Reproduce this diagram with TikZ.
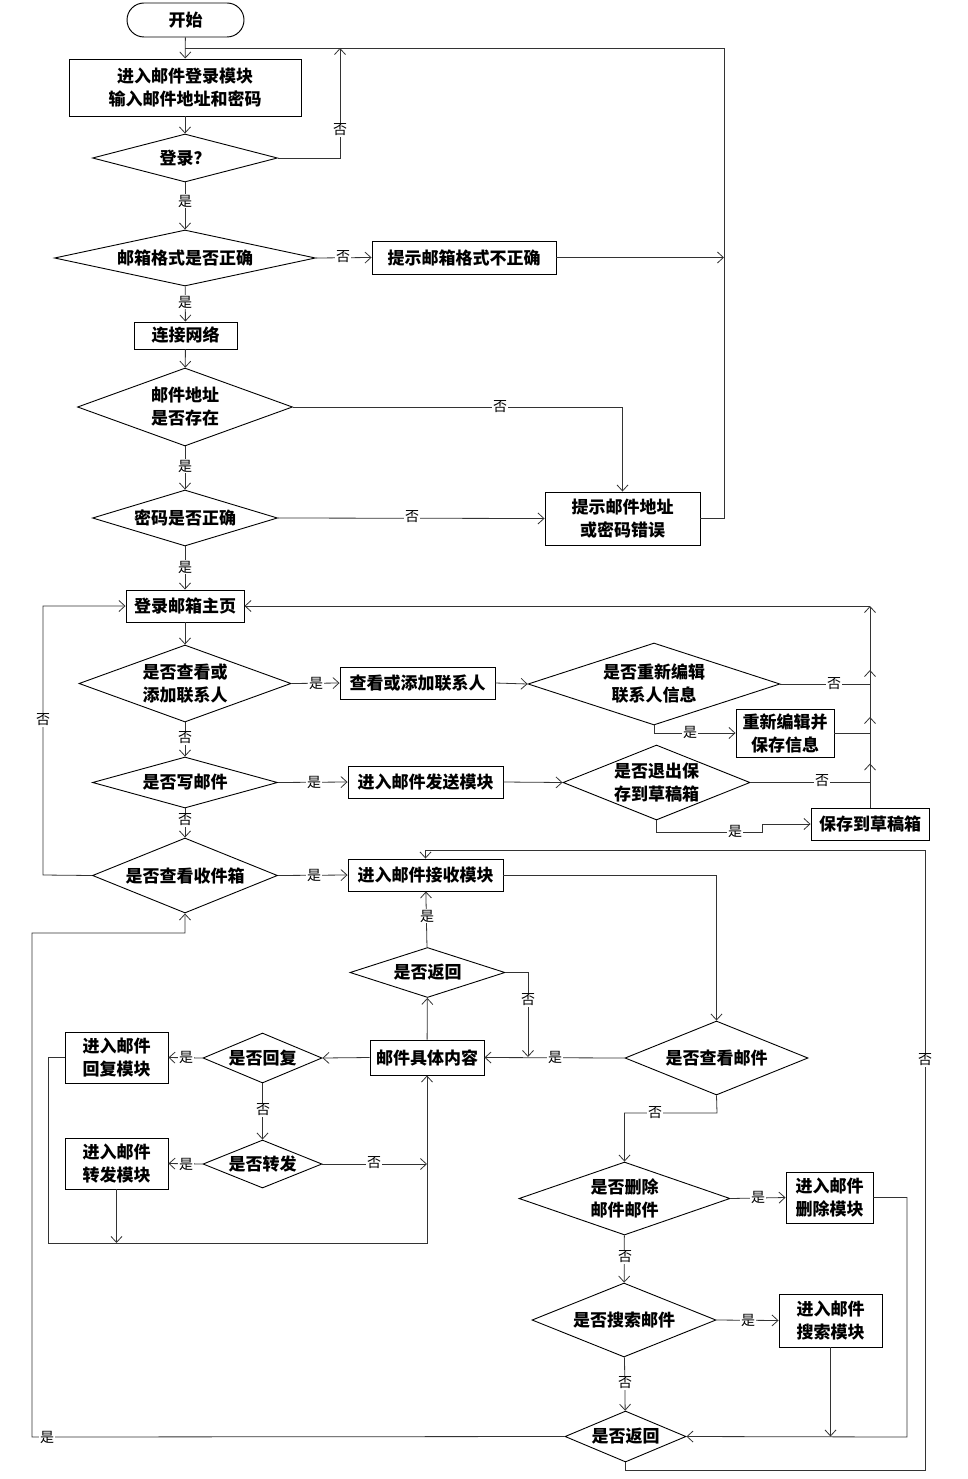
\documentclass[tikz,border=0pt]{standalone}
\usepackage{fontspec}
\setmainfont{Noto Sans CJK SC}
\usetikzlibrary{shapes.geometric,arrows.meta}

\begin{document}
\begin{tikzpicture}[x=1pt, y=-1pt,
    box/.style 2 args={draw, line width=0.95pt, minimum width=#1pt, minimum height=#2pt, align=center, inner sep=0pt, font=\bfseries\fontsize{17}{23}\selectfont},
    dec/.style 2 args={diamond, draw, line width=0.9pt, minimum width=#1pt, minimum height=#2pt, inner sep=0pt},
    dtxt/.style={align=center, inner sep=0pt, font=\bfseries\fontsize{17}{23}\selectfont},
    lab/.style={fill=white, inner sep=1pt, font=\fontsize{14}{14}\selectfont},
    arr/.style={draw=black!80, line width=0.8pt, -{Straight Barb[length=6pt,width=11pt]}},
    ln/.style={draw=black!80, line width=0.8pt},
]
\useasboundingbox (0,0) rectangle (968,1479);

% Login part
\node[box={117}{34}, rounded corners=17pt] (start) at (185.5,20) {开始};
\node[box={232}{57}] (login) at (185,87.5) {进入邮件登录模块\\输入邮件地址和密码};
\node[dec={185}{48}, label={[dtxt]center:登录？}] (chk) at (185,158) {};
\node[dec={261}{56}, label={[dtxt]center:邮箱格式是否正确}] (fmt) at (185,258) {};
\node[box={184}{33}] (fmterr) at (464,257.5) {提示邮箱格式不正确};
\node[box={103}{27}] (net) at (185.5,335.5) {连接网络};
\node[dec={215}{78}, label={[dtxt]center:{邮件地址\\是否存在}}] (addr) at (185,407) {};
\node[dec={185}{56}, label={[dtxt]center:密码是否正确}] (pwd) at (185,518) {};
\node[box={155}{53}] (err) at (622.5,518.5) {提示邮件地址\\或密码错误};

% Main page
\node[box={118}{32}] (home) at (185,606) {登录邮箱主页};
\node[dec={212}{77}, label={[dtxt]center:{是否查看或\\添加联系人}}] (contq) at (185,683.5) {};
\node[box={155}{32}] (cont) at (417.5,683) {查看或添加联系人};
\node[dec={252}{82}, label={[dtxt]center:{是否重新编辑\\联系人信息}}] (reedq) at (654,684) {};
\node[box={98}{48}] (reed) at (785,733) {重新编辑并\\保存信息};
\node[dec={185}{51}, label={[dtxt]center:是否写邮件}] (writeq) at (185,782.5) {};
\node[box={155}{32}] (send) at (425.5,782) {进入邮件发送模块};
\node[dec={187}{75}, label={[dtxt]center:{是否退出保\\存到草稿箱}}] (quitq) at (656.5,782.5) {};
\node[box={118}{32}] (draft) at (870,824) {保存到草稿箱};
\node[dec={185}{75}, label={[dtxt]center:是否查看收件箱}] (inq) at (185,875.5) {};
\node[box={155}{32}] (recv) at (425.5,875) {进入邮件接收模块};

% Inbox part
\node[dec={155}{50}, label={[dtxt]center:是否返回}] (back) at (427.5,972.5) {};
\node[box={114}{35}] (mail) at (427,1057.5) {邮件具体内容};
\node[dec={183}{74}, label={[dtxt]center:是否查看邮件}] (readq) at (716.5,1058) {};
\node[dec={119}{50}, label={[dtxt]center:是否回复}] (replyq) at (262.5,1058) {};
\node[box={103}{51}] (reply) at (116.5,1057.5) {进入邮件\\回复模块};
\node[dec={119}{48}, label={[dtxt]center:是否转发}] (fwdq) at (262.5,1164) {};
\node[box={103}{51}] (fwd) at (116.5,1163.5) {进入邮件\\转发模块};
\node[dec={211}{73}, label={[dtxt]center:{是否删除\\邮件邮件}}] (delq) at (624.5,1198.5) {};
\node[box={87}{51}] (del) at (829.5,1197.5) {进入邮件\\删除模块};
\node[dec={184}{74}, label={[dtxt]center:是否搜索邮件}] (findq) at (624,1320) {};
\node[box={103}{53}] (find) at (830.5,1320.5) {进入邮件\\搜索模块};
\node[dec={121}{51}, label={[dtxt]center:是否返回}] (backq) at (625.5,1436.5) {};

% Corner points
\coordinate (tr) at (724,48);
\coordinate (tl) at (185,48);
\coordinate (chkup) at (340,48);
\coordinate (bus) at (870,606);
\coordinate (lx) at (43,875);
\coordinate (qd) at (762,832);
\coordinate (bl) at (32,1437);
\coordinate (bu) at (32,933);
\coordinate (br) at (925,1470);
\coordinate (bt) at (925,850);
\coordinate (bk) at (528,1057);
\coordinate (rl) at (48,1243);
\coordinate (rd) at (717,1113);
\coordinate (dx) at (907,1437);

% Login flow
\draw[arr] (start) -- (login);
\draw[arr] (login) -- (chk);
\draw[arr] (chk.east) -| (chkup);
\draw[arr] (chk) -- (fmt);
\draw[arr] (fmt.east) -- (fmterr.west);
\draw[arr] (fmterr.east) -- (fmterr.east -| tr);
\draw[arr] (fmt) -- (net);
\draw[arr] (net) -- (addr);
\draw[arr] (addr.east) -| (err.north);
\draw[arr] (addr) -- (pwd);
\draw[arr] (pwd.east) -- (err.west);
\draw[ln] (err.east) -| (tr) -- (tl);
\draw[arr] (pwd) -- (home);

% Main page flow
\draw[arr] (home) -- (contq);
\draw[arr] (contq.east) -- (cont.west);
\draw[arr] (cont.east) -- (reedq.west);
\draw[arr] (reedq.south) |- (reed.west);
\draw[arr] (reedq.east) -- (reedq.east -| bus) -- ++(0,-14);
\draw[arr] (reed.east) -- (reed.east -| bus) -- ++(0,-16);
\draw[arr] (contq) -- (writeq);
\draw[arr] (writeq.east) -- (send.west);
\draw[arr] (send.east) -- (quitq.west);
\draw[arr] (quitq.east) -- (quitq.east -| bus) -- ++(0,-19);
\draw[arr] (quitq.south) |- (qd) |- (draft.west);
\draw[arr] (draft.north) -- (bus);
\draw[arr] (bus) -- (home.east);
\draw[arr] (writeq) -- (inq);
\draw[arr] (inq.east) -- (recv.west);
\draw[arr] (inq.west) -- (lx) |- (home.west);

% Inbox flow
\draw[arr] (recv.east) -| (readq.north);
\draw[arr] (readq.west) -- (mail.east);
\draw[arr] (mail) -- (back);
\draw[arr] (back) -- (recv);
\draw[arr] (back.east) -| (bk);
\draw[arr] (mail.west) -- (replyq.east);
\draw[arr] (replyq.west) -- (reply.east);
\draw[arr] (replyq) -- (fwdq);
\draw[arr] (fwdq.west) -- (fwd.east);
\draw[arr] (fwdq.east) -- (fwdq.east -| mail.south);
\draw[arr] (reply.west) -| (rl) -| (mail.south);
\draw[arr] (fwd.south) -- (fwd.south |- rl);
\draw[arr] (readq.south) -- (rd) -| (delq.north);
\draw[arr] (delq.east) -- (del.west);
\draw[arr] (del.east) -| (dx) -- (backq.east);
\draw[arr] (delq) -- (findq);
\draw[arr] (findq.east) -- (find.west);
\draw[arr] (find.south) -- (find.south |- backq.east);
\draw[arr] (findq) -- (backq);
\draw[arr] (backq.west) -- (bl) -- (bu) -| (inq.south);
\draw[arr] (backq.south) |- (br) -- (bt) -| (recv.north);

% Yes / no labels
\node[lab] (l1) at (340,130) {否};
\node[lab] (l2) at (185,201) {是};
\node[lab] (l3) at (343,257) {否};
\node[lab] (l4) at (185,302) {是};
\node[lab] (l5) at (500,407) {否};
\node[lab] (l6) at (185,466) {是};
\node[lab] (l7) at (412,517) {否};
\node[lab] (l8) at (185,567) {是};
\node[lab] (l9) at (316,683) {是};
\node[lab] (l10) at (834,684) {否};
\node[lab] (l11) at (690,732) {是};
\node[lab] (l12) at (185,738) {否};
\node[lab] (l13) at (314,782) {是};
\node[lab] (l14) at (822,781) {否};
\node[lab] (l15) at (735,831) {是};
\node[lab] (l16) at (185,820) {否};
\node[lab] (l17) at (314,875) {是};
\node[lab] (l18) at (43,720) {否};
\node[lab] (l19) at (427,916) {是};
\node[lab] (l20) at (528,1000) {否};
\node[lab] (l21) at (555,1057) {是};
\node[lab] (l22) at (186,1057) {是};
\node[lab] (l23) at (263,1110) {否};
\node[lab] (l24) at (186,1164) {是};
\node[lab] (l25) at (374,1163) {否};
\node[lab] (l26) at (655,1113) {否};
\node[lab] (l27) at (758,1197) {是};
\node[lab] (l28) at (625,1257) {否};
\node[lab] (l29) at (748,1320) {是};
\node[lab] (l30) at (625,1383) {否};
\node[lab] (l31) at (47,1437) {是};
\node[lab] (l32) at (925,1060) {否};

\end{tikzpicture}
\end{document}
